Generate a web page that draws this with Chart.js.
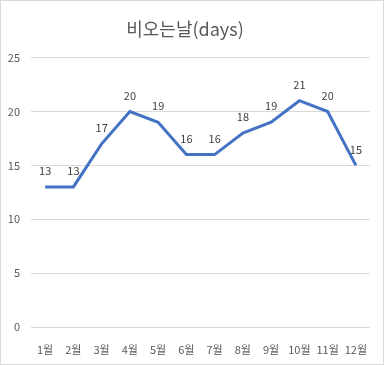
<!DOCTYPE html>
<html>
<head>
<meta charset="utf-8">
<script src="https://cdn.jsdelivr.net/npm/chart.js@4"></script>
<style>
  html, body { margin: 0; padding: 0; background: #fff; }
  #wrap { width: 384px; height: 365px; position: relative; }
</style>
</head>
<body>
<div id="wrap"><canvas id="chart"></canvas></div>
<script>
const months = ['1월', '2월', '3월', '4월', '5월', '6월', '7월', '8월', '9월', '10월', '11월', '12월'];
const rainyDays = [13, 13, 17, 20, 19, 16, 16, 18, 19, 21, 20, 15];
const yTicks = [0, 5, 10, 15, 20, 25];

const FONT = '"Noto Sans CJK KR", "Noto Sans", sans-serif';

// white background + thin frame like the office chart box
const framePlugin = {
  id: 'frame',
  beforeDraw(chart) {
    const { ctx, width, height } = chart;
    ctx.save();
    ctx.fillStyle = '#fff';
    ctx.fillRect(0, 0, width, height);
    ctx.strokeStyle = '#d9d9d9';
    ctx.lineWidth = 1;
    ctx.strokeRect(0.5, 0.5, width - 1, height - 1);
    ctx.restore();
  },
};

// value labels above each point
const valueLabels = {
  id: 'valueLabels',
  afterDatasetsDraw(chart) {
    const { ctx } = chart;
    const meta = chart.getDatasetMeta(0);
    ctx.save();
    ctx.font = '11px ' + FONT;
    ctx.fillStyle = '#404040';
    ctx.textAlign = 'center';
    ctx.textBaseline = 'middle';
    meta.data.forEach((pt, i) => {
      ctx.fillText(String(rainyDays[i]), pt.x, pt.y - 16);
    });
    ctx.restore();
  },
};

new Chart(document.getElementById('chart'), {
  type: 'line',
  data: {
    labels: months,
    datasets: [{
      data: rainyDays,
      borderColor: '#4472c4',
      borderWidth: 3,
      pointRadius: 0,
      tension: 0,
      fill: false,
    }],
  },
  options: {
    responsive: true,
    maintainAspectRatio: false,
    animation: false,
    layout: { padding: { left: 0, right: 14, top: 0, bottom: 0 } },
    plugins: {
      legend: { display: false },
      tooltip: { enabled: false },
      title: {
        display: true,
        text: '비오는날(days)',
        color: '#595959',
        font: { family: FONT, size: 18, weight: 'normal' },
        padding: { top: 18, bottom: 18 },
      },
    },
    scales: {
      x: {
        offset: true,
        grid: { display: false },
        border: { display: false },
        ticks: { color: '#595959', font: { family: FONT, size: 11 }, padding: 8, maxRotation: 0, autoSkip: false },
        afterFit(scale) { scale.height = 38; },
      },
      y: {
        min: 0,
        max: 25,
        afterBuildTicks(scale) { scale.ticks = yTicks.map((v) => ({ value: v })); },
        grid: { color: '#d9d9d9', drawTicks: false },
        border: { display: false },
        ticks: { color: '#595959', font: { family: FONT, size: 11 }, padding: 11 },
        afterFit(scale) { scale.width = 31; },
      },
    },
  },
  plugins: [framePlugin, valueLabels],
});
</script>
</body>
</html>
